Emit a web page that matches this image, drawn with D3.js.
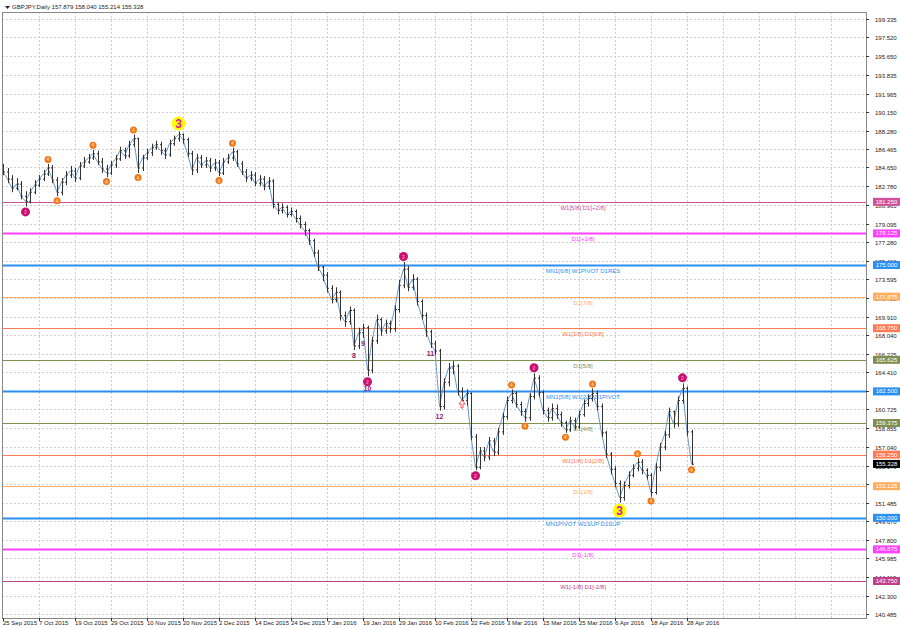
<!DOCTYPE html>
<html><head><meta charset="utf-8">
<script src="https://cdn.jsdelivr.net/npm/d3@7"></script>
<style>body{margin:0;background:#fff}text{font-family:"Liberation Sans",Arial,sans-serif}</style>
</head><body>
<svg width="900" height="629"></svg>
<script>
// price bars (open = previous close)
var closes = [184.2,183.5,182.6,183.0,181.8,181.3,182.2,182.9,183.5,184.0,184.6,183.4,182.2,183.2,183.9,184.3,183.6,184.8,185.2,185.6,
186.0,185.2,184.5,184.1,184.9,185.5,186.3,185.8,186.9,187.5,184.6,185.6,186.1,186.6,186.9,186.3,185.9,187.0,187.5,187.9,
187.4,186.0,184.4,185.6,184.9,185.3,184.6,185.1,184.1,185.2,185.6,186.2,185.0,184.2,183.6,183.9,183.1,183.5,182.8,183.3,
181.0,180.4,180.7,180.0,180.3,179.6,179.0,178.4,177.4,176.2,174.8,174.0,172.7,171.6,172.3,170.0,169.4,170.5,167.0,168.3,
168.8,164.6,167.5,169.6,168.5,169.2,168.7,170.6,173.0,174.6,172.8,173.6,171.4,170.0,168.4,167.2,166.5,161.0,163.4,164.8,
165.0,162.5,161.6,162.3,158.0,155.0,156.6,156.0,157.6,156.5,158.5,160.0,161.6,162.3,161.2,160.5,159.9,162.0,163.8,162.4,
160.6,159.9,160.8,160.2,159.4,158.7,159.6,159.0,160.2,161.3,161.8,162.3,161.0,158.4,156.3,154.8,153.4,152.0,153.2,154.2,
154.9,155.5,154.7,154.2,152.5,155.0,157.0,158.2,160.5,159.3,161.6,162.8,158.5,155.3];
var highs = [185.0,184.6,183.9,183.6,183.3,182.3,182.6,183.4,183.9,184.4,185.0,184.9,183.7,183.6,184.3,184.8,184.6,185.2,185.7,186.0,
186.4,186.3,185.6,184.9,185.3,185.9,186.7,186.6,187.3,187.9,187.6,185.9,186.5,187.0,187.3,187.2,186.6,187.4,187.8,188.2,
188.0,187.6,186.3,186.0,185.9,185.7,185.6,185.5,185.4,185.6,186.0,186.6,186.4,185.3,184.5,184.3,184.2,183.9,183.8,183.7,
183.5,181.2,181.1,180.9,180.7,180.5,179.9,179.3,178.6,177.6,176.5,174.9,174.3,173.0,172.8,172.5,170.4,170.9,170.7,168.8,
169.2,169.0,167.9,170.1,169.8,169.6,169.5,171.0,173.5,175.3,174.9,174.1,173.8,171.6,170.3,168.6,167.5,166.7,163.8,165.3,
165.5,165.2,162.9,162.7,162.4,158.3,157.0,157.0,158.0,157.9,158.9,160.4,162.0,162.7,162.5,161.5,160.8,162.3,164.3,164.1,
162.6,160.9,161.3,161.2,160.5,159.6,160.0,159.9,160.6,161.7,162.2,162.8,162.6,161.3,158.6,156.5,155.1,153.7,153.6,154.6,
155.3,155.9,155.8,154.9,154.4,155.4,157.4,158.6,160.9,160.6,162.0,163.3,163.0,158.7];
var lows = [183.9,183.1,182.2,182.4,181.5,180.8,181.1,182.0,182.7,183.3,183.8,183.1,181.8,181.9,182.9,183.6,183.2,183.4,184.6,185.0,
185.4,184.9,184.1,183.7,183.9,184.6,185.3,185.5,185.6,186.7,184.1,184.3,185.4,185.8,186.4,185.9,185.5,185.7,186.8,187.2,
187.0,185.7,183.9,184.1,184.6,184.6,184.2,184.3,183.8,183.9,185.0,185.3,184.7,183.9,183.2,183.3,182.8,182.8,182.4,182.5,
180.6,180.0,180.1,179.7,179.8,179.2,178.6,177.9,177.0,175.8,174.4,173.4,172.3,171.2,171.3,169.5,168.9,169.1,166.6,166.7,
167.8,164.0,164.3,167.2,168.0,168.2,168.3,168.4,170.3,172.7,172.4,172.5,171.0,169.6,167.9,166.8,166.1,160.6,160.7,163.0,
164.2,162.1,161.2,161.1,157.7,154.7,154.8,155.6,155.7,156.1,156.2,158.2,159.7,161.3,160.9,160.1,159.5,159.6,161.7,162.0,
160.2,159.5,159.6,159.8,159.0,158.4,158.5,158.7,158.8,160.0,161.0,161.5,160.6,158.0,155.9,154.3,153.0,151.5,151.7,152.9,
154.0,154.6,154.3,153.8,152.1,152.3,154.6,156.7,157.9,158.9,159.0,161.3,158.1,155.2];
var lastPrice = 155.328;

var dateLabels = ['25 Sep 2015','7 Oct 2015','19 Oct 2015','29 Oct 2015','10 Nov 2015','20 Nov 2015','2 Dec 2015','14 Dec 2015',
'24 Dec 2015','7 Jan 2016','19 Jan 2016','29 Jan 2016','10 Feb 2016','22 Feb 2016','3 Mar 2016','15 Mar 2016','25 Mar 2016',
'6 Apr 2016','18 Apr 2016','28 Apr 2016'];
var dateStep = 8;

var priceTicks = [199.335,197.520,195.650,193.835,191.965,190.150,188.280,186.465,184.650,182.780,180.965,179.095,177.280,
175.410,173.595,171.725,169.910,168.040,166.225,164.410,162.540,160.725,158.855,157.040,155.170,153.355,151.485,149.670,
147.800,145.985,144.115,142.300,140.485];

// murrey levels
var levelPrices = [181.250,178.125,175.000,171.875,168.750,165.625,162.500,159.375,156.250,153.125,150.000,146.875,143.750];
var levelNames = ['W1[5/8] D1[+2/8]','D1[+1/8]','MN1[6/8] W1PIVOT D1RES','D1[7/8]','W1[3/8] D1[6/8]','D1[5/8]',
'MN1[5/8] W1[2/8] D1PIVOT','D1[4/8]','W1[1/8] D1[2/8]','D1[1/8]','MN1PIVOT W1SUP D1SUP','D1[-1/8]','W1[-1/8] D1[-2/8]'];
var levelColors = ['#d0509a','#ff40ff','#2a8ff0','#ffae60','#ff7a50','#7f8f50','#2a8ff0','#7f8f50','#ff7a50','#ffae60',
'#2a8ff0','#ff40ff','#c0408a'];
var levelWidths = [1,2,2,1,1,1,2,1,1,1,2,2,1];

// pivot markers: bar index, type, position
var markIdx = [5,10,12,20,23,29,30,39,48,51,81,89,105,113,116,118,125,131,137,141,144,151,153];
var markType = ['pink','orange','orange','orange','orange','orange','orange','yellow','orange','orange','pink','pink','pink',
'orange','orange','pink','orange','orange','yellow','orange','orange','pink','orange'];
var markSide = ['low','high','low','high','low','high','low','high','low','high','low','high','low','high','low','high','low',
'high','low','high','low','high','low'];

var waveIdx = [78,80,81,95,97];
var waveText = ['8','9','10','11','12'];

var svg = d3.select('svg');
var plot = {l: 2, r: 866, t: 12, b: 618};
var fs = 6;

var x = d3.scaleLinear().domain([0, 153]).range([3, 691.5]);
var y = d3.scaleLinear().domain([140.485, 199.335]).range([614, 19]);

// grid
var grid = svg.append('g').attr('stroke', '#cfcfcf').attr('stroke-dasharray', '2,2').attr('stroke-width', 1);
priceTicks.forEach(function(p) {
    grid.append('line').attr('x1', plot.l).attr('x2', plot.r).attr('y1', Math.round(y(p)) + 0.5).attr('y2', Math.round(y(p)) + 0.5);
});
for (var k = 1; k < 25; k++) {
    var gx = Math.round(x(k * dateStep)) + 0.5;
    if (gx < plot.r) grid.append('line').attr('x1', gx).attr('x2', gx).attr('y1', plot.t).attr('y2', plot.b);
}

// levels
levelPrices.forEach(function(p, i) {
    var ly = Math.round(y(p)) + 0.5;
    svg.append('line').attr('x1', plot.l).attr('x2', plot.r).attr('y1', ly).attr('y2', ly)
        .attr('stroke', levelColors[i]).attr('stroke-width', levelWidths[i]);
    svg.append('text').attr('x', 583).attr('y', ly + 7).attr('text-anchor', 'middle')
        .attr('font-size', fs).attr('fill', levelColors[i]).text(levelNames[i]);
});

// close line
svg.append('path').datum(closes)
    .attr('d', d3.line().x(function(d, i) { return x(i); }).y(function(d) { return y(d); }))
    .attr('fill', 'none').attr('stroke', '#6b96c8').attr('stroke-width', 1);

// OHLC bars
var bars = svg.append('g').attr('stroke', '#333').attr('stroke-width', 1);
closes.forEach(function(c, i) {
    var bx = Math.round(x(i)) + 0.5;
    var o = i > 0 ? closes[i - 1] : c;
    bars.append('line').attr('x1', bx).attr('x2', bx).attr('y1', y(highs[i])).attr('y2', y(lows[i]));
    bars.append('line').attr('x1', bx - 1.5).attr('x2', bx).attr('y1', y(o)).attr('y2', y(o));
    bars.append('line').attr('x1', bx).attr('x2', bx + 1.5).attr('y1', y(c)).attr('y2', y(c));
});

// markers
markIdx.forEach(function(idx, i) {
    var t = markType[i];
    var r = t === 'yellow' ? 7 : (t === 'pink' ? 4.5 : 3.5);
    var off = r + 1;
    var my = markSide[i] === 'high' ? y(highs[idx]) - off : y(lows[idx]) + off;
    var fill = t === 'yellow' ? '#ffff00' : (t === 'pink' ? '#c8106e' : '#f07818');
    svg.append('circle').attr('cx', x(idx)).attr('cy', my).attr('r', r).attr('fill', fill);
    svg.append('text').attr('x', x(idx)).attr('y', my + (t === 'yellow' ? 4.5 : 2))
        .attr('text-anchor', 'middle').attr('font-size', t === 'yellow' ? 12 : 5).attr('font-weight', 'bold')
        .attr('fill', t === 'yellow' ? '#e0189a' : (t === 'pink' ? '#ff80c0' : '#ffd0a0'))
        .text(t === 'yellow' ? '3' : (t === 'pink' ? '2' : '4'));
});

// wave labels
waveIdx.forEach(function(idx, i) {
    var wy = y(lows[idx]) + (waveText[i] === '10' ? 15 : 8);
    svg.append('text').attr('x', x(idx)).attr('y', wy).attr('text-anchor', 'middle')
        .attr('font-size', 7).attr('font-weight', 'bold').attr('fill', '#8b1a6b').text(waveText[i]);
});
// hollow up arrow
svg.append('path').attr('d', 'M462,400 l-3,4 h2 v4 h2 v-4 h2 z')
    .attr('fill', '#fff').attr('stroke', '#ff3030').attr('stroke-width', 0.8);

// frame
svg.append('rect').attr('x', plot.l + 0.5).attr('y', plot.t + 0.5).attr('width', plot.r - plot.l)
    .attr('height', plot.b - plot.t).attr('fill', 'none').attr('stroke', '#888');

// price axis
var axis = svg.append('g');
priceTicks.forEach(function(p) {
    var ty = Math.round(y(p)) + 0.5;
    axis.append('line').attr('x1', plot.r).attr('x2', plot.r + 3).attr('y1', ty).attr('y2', ty).attr('stroke', '#333');
    axis.append('text').attr('x', 875).attr('y', ty + 2).attr('font-size', fs).attr('fill', '#222').text(p.toFixed(3));
});
// price tags
var tagPrices = levelPrices.concat([lastPrice]);
var tagColors = levelColors.concat(['#000']);
tagPrices.forEach(function(p, i) {
    var ty = y(p);
    axis.append('rect').attr('x', plot.r + 7).attr('y', ty - 4).attr('width', 27).attr('height', 8).attr('fill', tagColors[i]);
    axis.append('text').attr('x', plot.r + 20.5).attr('y', ty + 2).attr('text-anchor', 'middle')
        .attr('font-size', fs).attr('fill', '#fff').text(p.toFixed(3));
});

// date axis
dateLabels.forEach(function(d, i) {
    var dx = Math.round(x(i * dateStep));
    svg.append('line').attr('x1', dx + 0.5).attr('x2', dx + 0.5).attr('y1', plot.b).attr('y2', plot.b + 3).attr('stroke', '#333');
    svg.append('text').attr('x', dx).attr('y', 625).attr('font-size', fs).attr('fill', '#222').text(d);
});

// header
svg.append('path').attr('d', 'M5,6 h5 l-2.5,3 z').attr('fill', '#222');
svg.append('text').attr('x', 12).attr('y', 9).attr('font-size', fs).attr('fill', '#222')
    .text('GBPJPY,Daily  157.879 158.040 155.214 155.328');
</script>
</body></html>
